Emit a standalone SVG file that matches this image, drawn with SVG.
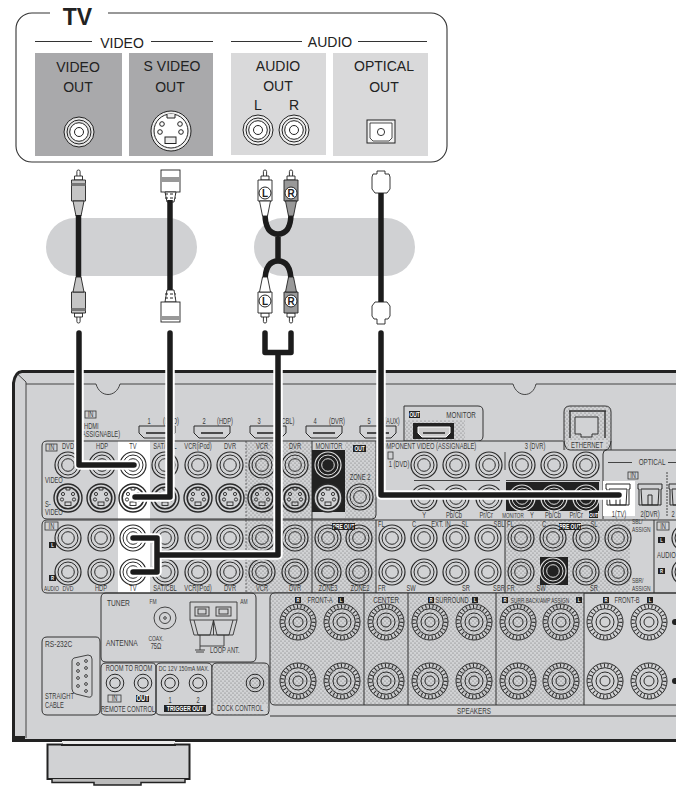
<svg xmlns="http://www.w3.org/2000/svg" xmlns:xlink="http://www.w3.org/1999/xlink" width="676" height="790" viewBox="0 0 676 790" font-size="8.2">
<style>
text{font-family:"Liberation Sans",Arial,sans-serif}
.tv{font-size:14px;fill:#222;text-anchor:middle}
.s{fill:#3a3a3a;text-anchor:middle;transform-box:fill-box;transform-origin:50% 50%;transform:scaleX(.7)}
.sl{text-anchor:start;transform-origin:0 50%}
.w{fill:#fff;font-weight:bold}
.l{fill:none;stroke:#333;stroke-width:.9}
.pn{fill:none;stroke:#333;stroke-width:1}
.blk{fill:#222}
.box{fill:none;stroke:#333;stroke-width:.8}
.halo{fill:none;stroke:#fff;stroke-width:9.5;stroke-linecap:round;stroke-linejoin:round}
.cab{fill:none;stroke:#1c1c1c;stroke-width:5.5;stroke-linecap:round;stroke-linejoin:round}
.cab2{fill:none;stroke:#1c1c1c;stroke-width:5.5}
.pl{stroke:#222;stroke-width:.9}
</style>
<defs>
<pattern id="dots" width="4" height="4" patternUnits="userSpaceOnUse">
<rect width="4" height="4" fill="#d1d2d4"/>
<circle cx="1" cy="1" r=".6" fill="#6e6e6e"/><circle cx="3" cy="3" r=".6" fill="#6e6e6e"/>
</pattern>
<g id="rca" fill="none" stroke="#2a2a2a">
<circle r="13" stroke-width="1.2"/><circle r="10" stroke-width="1"/><circle r="6.3" stroke-width="1"/>
</g>
<g id="rcaW" fill="none" stroke="#ddd">
<circle r="13" stroke-width="1.2"/><circle r="10" stroke-width="1"/><circle r="6.3" stroke-width="1"/>
</g>
<g id="sv" fill="none" stroke="#2a2a2a">
<circle r="14" stroke-width="1.4"/><circle r="10.8" stroke-width="1.6"/>
<circle cx="-5" cy="-4" r="1.6" stroke-width=".9"/><circle cx="5" cy="-4" r="1.6" stroke-width=".9"/>
<circle cx="-6" cy="1.5" r="1.6" stroke-width=".9"/><circle cx="6" cy="1.5" r="1.6" stroke-width=".9"/>
<rect x="-3" y="4" width="6" height="3.5" stroke-width=".9"/>
<path d="M-2 -11V-8H2V-11" stroke-width=".9"/>
</g>
<g id="spk" fill="none" stroke="#2a2a2a">
<circle r="18" stroke-width="1"/>
<circle r="15.6" stroke-width="3.6" stroke-dasharray="1 2.6"/>
<circle r="13.3" stroke-width="1"/><circle r="9" stroke-width="1"/><circle r="5" stroke-width="1"/>
</g>
<g id="mini" fill="none" stroke="#2a2a2a">
<circle r="8.8" stroke-width="1"/><circle r="5.2" stroke-width="1"/>
</g>
<g id="opt" fill="none" stroke="#2a2a2a" stroke-width="1">
<path d="M-12 -12H12V-7H11V9H-11V-7H-12Z"/><path d="M-9 -7H9L8 9H-8Z"/><path d="M-2 9V-1H2V9"/>
</g>
<g id="hdmi" fill="none" stroke="#2a2a2a" stroke-width="1">
<path d="M-18 -6H18V1L13 6H-13L-18 1Z"/><path d="M-11 1H11" stroke-width="1.6"/>
</g>
<g id="plug" stroke="#222" stroke-width=".9">
<rect x="-1.6" y="0" width="3.2" height="10" rx="1.5" fill="#fff"/>
<path d="M-4 6H4V10H-4Z" fill="#fff"/>
<path d="M-7 10H7V31H-7Z"/>
<path d="M-5.5 31H5.5L2.5 46H-2.5Z"/>
</g>
</defs>
<rect width="676" height="790" fill="#fff"/>

<g id="tv-panel">
<rect x="16" y="13" width="431" height="149" rx="16" fill="#fff" stroke="#333" stroke-width="1.1"/>
<rect x="50" y="8" width="58" height="10" fill="#fff"/>
<text x="77.500" y="25" font-size="23" font-weight="bold" fill="#222" text-anchor="middle">TV</text>
<path d="M35 41.5H92M151 41.5H213M231 41.5H302M358 41.5H427" stroke="#333" fill="none"/>
<text class="tv" x="122" y="48">VIDEO</text>
<text class="tv" x="330" y="47">AUDIO</text>
<g id="tv-video-out">
<rect x="35" y="53" width="87" height="103" fill="#a9a9ab"/>
<text class="tv" x="78" y="72">VIDEO</text><text class="tv" x="78" y="92">OUT</text>
<g fill="#e4e4e4" stroke="#222"><circle cx="79" cy="132" r="15"/><circle cx="79" cy="132" r="12" fill="none"/><circle cx="79" cy="132" r="9.3" fill="#fff"/><circle cx="79" cy="132" r="4.5" fill="#fff"/></g>
</g>
<g id="tv-svideo-out">
<rect x="129" y="53" width="84" height="103" fill="#a9a9ab"/>
<text class="tv" x="172" y="71">S VIDEO</text><text class="tv" x="170" y="92">OUT</text>
<g stroke="#222" fill="#eee"><circle cx="171" cy="131" r="20"/><circle cx="171" cy="131" r="17" fill="#fff"/>
<path d="M167 114V118H175V114" fill="#eee"/><rect x="165" y="137" width="11" height="6.5"/>
<circle cx="162" cy="124" r="2.3" fill="none"/><circle cx="180" cy="124" r="2.3" fill="none"/><circle cx="160" cy="132" r="2.3" fill="none"/><circle cx="181" cy="132" r="2.3" fill="none"/></g>
</g>
<g id="tv-audio-out">
<rect x="231" y="53" width="95" height="102" fill="#d9d9da"/>
<text class="tv" x="278" y="71">AUDIO</text><text class="tv" x="278" y="91">OUT</text>
<text class="tv" x="258" y="110">L</text><text class="tv" x="294" y="110">R</text>
<g stroke="#222" fill="#eee"><circle cx="258" cy="130" r="15"/><circle cx="258" cy="130" r="12" fill="none"/><circle cx="258" cy="130" r="9.3" fill="#fff"/><circle cx="258" cy="130" r="4.5" fill="#fff"/>
<circle cx="294" cy="130" r="15"/><circle cx="294" cy="130" r="12" fill="none"/><circle cx="294" cy="130" r="9.3" fill="#fff"/><circle cx="294" cy="130" r="4.5" fill="#fff"/></g>
</g>
<g id="tv-optical-out">
<rect x="333" y="53" width="95" height="103" fill="#d9d9da"/>
<text class="tv" x="384" y="71">OPTICAL</text><text class="tv" x="384" y="92">OUT</text>
<rect x="367" y="120" width="28" height="23" fill="#f0f0f0" stroke="#222"/>
<path d="M370 123H392V138L389 141H373L370 138Z" fill="#fff" stroke="#222" stroke-width=".8"/>
<circle cx="381" cy="132" r="3.6" fill="none" stroke="#222" stroke-width=".9"/>
</g>
</g>

<g id="bands">
<rect x="46" y="218" width="151" height="58" rx="29" fill="#d0d1d3"/>
<rect x="254" y="218" width="161" height="58" rx="29" fill="#d0d1d3"/>
</g>

<g id="receiver">
<path d="M676 371.500H22Q15 372 13.500 383V740.500H676Z" fill="#d1d2d4"/>
<path d="M676 371.500H22Q15 372 13.500 383V740.500H676" fill="none" stroke="#222" stroke-width="3"/>
<rect x="12" y="736" width="13" height="6" fill="#222"/>
<path d="M26 382V738M17 373.500L26 382" class="l" stroke-width=".7"/>
<path d="M26 384H96C100 398 116 398 120 384H513C517 398 533 398 536 384H676" class="l"/>

<g id="hdmi-inputs">
<rect x="85" y="411" width="11" height="7" class="box"/><text class="s" x="90.500" y="417">IN</text>
<text class="s sl" x="84" y="429">HDMI</text><text class="s sl" x="80" y="437">(ASSIGNABLE)</text>
<use xlink:href="#hdmi" x="157" y="432"/><use xlink:href="#hdmi" x="212" y="432"/><use xlink:href="#hdmi" x="268" y="432"/><use xlink:href="#hdmi" x="324" y="432"/><use xlink:href="#hdmi" x="378" y="432"/>
<text class="s" x="149" y="424">1</text><text class="s" x="171" y="424">(DVD)</text>
<text class="s" x="204" y="424">2</text><text class="s" x="225" y="424">(HDP)</text>
<text class="s" x="259" y="424">3</text><text class="s" x="287" y="424">(CBL)</text>
<text class="s" x="315" y="424">4</text><text class="s" x="337" y="424">(DVR)</text>
<text class="s" x="369" y="424">5</text><text class="s" x="392" y="424">(AUX)</text>
</g>

<g id="hdmi-monitor">
<path d="M404 406H478Q483 406 483 411V436Q483 441 478 441H404Z" fill="#d1d2d4" stroke="#333"/>
<rect x="405" y="420" width="60" height="20" fill="url(#dots)"/>
<rect x="409" y="411" width="11" height="7" class="blk"/><text class="s w" x="414.500" y="417" font-size="7">OUT</text>
<text class="s" x="461" y="418" font-size="9">MONITOR</text>
<rect x="413" y="423" width="41" height="16" class="blk"/>
<path d="M418 427H450V433L446 437H422L418 433Z" fill="#ccc" stroke="#fff"/><path d="M423 433H445" stroke="#222" stroke-width="1.500"/>
</g>

<g id="video-panel">
<path d="M42 446Q42 441 47 441H560Q563 441 564 444V448Q566 450 570 450H676V519H47Q42 519 42 514Z" fill="#d1d2d4"/>
<rect x="246" y="442" width="66" height="76" fill="url(#dots)"/>
<rect x="345" y="442" width="31" height="76" fill="url(#dots)"/>
<rect x="118" y="441" width="32" height="78" fill="#fff"/>
<path d="M563 441H47Q42 441 42 446V514Q42 519 47 519H372Q376 519 376 515V441" class="pn"/>
<path d="M246 441V519" stroke="#333" stroke-width=".7" stroke-dasharray="2 1.500"/><path d="M312 441V519" class="pn"/>
<rect x="46" y="444" width="11" height="7" class="box"/><text class="s" x="51.500" y="450">IN</text>
<text class="s" x="68" y="449">DVD</text><text class="s" x="102" y="449">HDP</text><text class="s" x="133" y="449">TV</text><text class="s" x="165" y="449">SAT/CBL</text><text class="s" x="198" y="449">VCR(iPod)</text><text class="s" x="230" y="449">DVR</text><text class="s" x="262" y="449">VCR</text><text class="s" x="295" y="449">DVR</text><text class="s" x="329" y="449">MONITOR</text>
<text class="s sl" x="45" y="483">VIDEO</text><text class="s sl" x="45" y="507">S-</text><text class="s sl" x="45" y="515">VIDEO</text>
<rect x="312" y="450" width="33" height="62" class="blk"/>
<use xlink:href="#rca" x="68" y="465"/><use xlink:href="#rca" x="102" y="465"/><use xlink:href="#rca" x="133" y="465"/><use xlink:href="#rca" x="165" y="465"/><use xlink:href="#rca" x="198" y="465"/><use xlink:href="#rca" x="230" y="465"/><use xlink:href="#rca" x="262" y="465"/><use xlink:href="#rca" x="295" y="465"/><use xlink:href="#rcaW" x="328" y="465"/>
<use xlink:href="#sv" x="68" y="498"/><use xlink:href="#sv" x="101" y="498"/><use xlink:href="#sv" x="133" y="498"/><use xlink:href="#sv" x="165" y="498"/><use xlink:href="#sv" x="198" y="498"/><use xlink:href="#sv" x="230" y="498"/><use xlink:href="#sv" x="262" y="498"/><use xlink:href="#sv" x="295" y="498"/>
<circle cx="328" cy="498" r="14" fill="#d1d2d4"/><use xlink:href="#sv" x="328" y="498"/>
<rect x="353" y="445" width="13" height="7" class="blk"/><text class="s w" x="359.500" y="451" font-size="7">OUT</text>
<text class="s" x="360" y="480">ZONE 2</text>
<use xlink:href="#rca" x="360" y="497"/>
</g>

<g id="component-panel">
<text class="s sl" x="378" y="449">COMPONENT VIDEO (ASSIGNABLE)</text>
<rect x="388" y="452" width="5" height="7" class="box"/>
<text class="s" x="399" y="467">1 (DVD)</text><text class="s" x="535" y="449">3 (DVR)</text>
<path d="M505 452V470M414 480.500H500M506 480.500H600" class="l"/>
<rect x="506" y="482" width="93" height="29" class="blk"/>
<use xlink:href="#rca" x="424" y="465"/><use xlink:href="#rca" x="456" y="465"/><use xlink:href="#rca" x="489" y="465"/><use xlink:href="#rca" x="522" y="465"/><use xlink:href="#rca" x="554" y="465"/><use xlink:href="#rca" x="586" y="465"/>
<use xlink:href="#rca" x="424" y="498"/><use xlink:href="#rca" x="456" y="498"/><use xlink:href="#rca" x="489" y="498"/><use xlink:href="#rcaW" x="522" y="498"/><use xlink:href="#rcaW" x="554" y="498"/><use xlink:href="#rcaW" x="586" y="498"/>
<rect x="505" y="511" width="95" height="8" fill="#d1d2d4"/><rect x="414" y="511" width="90" height="8" fill="#d1d2d4"/>
<text class="s" x="424" y="518">Y</text><text class="s" x="454" y="518">Pb/Cb</text><text class="s" x="486" y="518">Pr/Cr</text>
<text class="s" x="513" y="518" font-size="6.500">MONITOR</text><text class="s" x="532" y="518">Y</text><text class="s" x="553" y="518">Pb/Cb</text><text class="s" x="576" y="518">Pr/Cr</text>
<rect x="589" y="511" width="9" height="7" class="blk"/><text class="s w" x="593.500" y="517" font-size="6">OUT</text>
</g>

<g id="ethernet">
<path d="M564 450V412Q564 406 570 406H605Q611 406 611 412V450" fill="url(#dots)" stroke="#333"/>
<path d="M564 441Q565 450 570 450H605Q610 450 611 441" fill="none" stroke="#333"/>
<rect x="569" y="440" width="37" height="9" fill="#d1d2d4"/>
<path d="M569 411H606M570 411V438M605 411V438" stroke="#333" stroke-width="1.400" fill="none"/>
<path d="M575 417H598V434H592V437H581V434H575Z" fill="#d1d2d4" stroke="#333"/>
<text class="s" x="587" y="448.500" font-size="8.500">ETHERNET</text>
</g>

<g id="optical-panel">
<path d="M603 519V454Q603 450 607 450H676" class="pn"/>
<rect x="603" y="481" width="32" height="35" fill="#fff"/>
<path d="M608 462.500H632M668 462.500H676" class="l"/><text class="s" x="652" y="465" font-size="9">OPTICAL</text>
<rect x="628" y="472" width="10" height="7" class="box"/><text class="s" x="633" y="478">IN</text>
<path d="M667 472V517" class="l" stroke-dasharray="2 1"/>
<use xlink:href="#opt" x="618" y="496"/><use xlink:href="#opt" x="650" y="496"/><use xlink:href="#opt" x="681" y="496"/>
<text class="s" x="619" y="517">1(TV)</text><text class="s" x="650" y="517">2(DVR)</text><text class="s" x="673" y="517">2</text>
</g>

<g id="audio-panel">
<path d="M42 525Q42 520 47 520H654V593H47Q42 593 42 588Z" fill="#d1d2d4"/>
<rect x="246" y="520" width="130" height="73" fill="url(#dots)"/>
<rect x="505" y="520" width="125" height="72" fill="url(#dots)"/>
<rect x="118" y="520" width="32" height="73" fill="#fff"/>
<path d="M47 520H676M42 525Q42 520 47 520M42 525V588Q42 593 47 593H676" class="pn"/>
<path d="M246 520V593" stroke="#333" stroke-width=".7" stroke-dasharray="2 1.500"/>
<path d="M312 520V593M376 520V593M505 520V593M654 520V593" class="pn"/>
<rect x="45" y="522" width="13" height="8" class="box"/><text class="s" x="51.500" y="529">IN</text>
<rect x="49" y="542" width="7" height="6" class="blk"/><text class="s w" x="52.500" y="547.500" font-size="6">L</text>
<rect x="49" y="575" width="7" height="6" class="blk"/><text class="s w" x="52.500" y="580.500" font-size="6">R</text>
<text class="s sl" x="44" y="591" font-size="6.800">AUDIO</text>
<text class="s" x="68" y="591" font-size="7.400">DVD</text><text class="s" x="101" y="591">HDP</text><text class="s" x="133" y="591">TV</text><text class="s" x="165" y="591">SAT/CBL</text><text class="s" x="198" y="591">VCR(iPod)</text><text class="s" x="230" y="591">DVR</text><text class="s" x="262" y="591">VCR</text><text class="s" x="295" y="591">DVR</text><text class="s" x="328" y="591">ZONE3</text><text class="s" x="360" y="591">ZONE2</text>
<rect x="332" y="523" width="23" height="7" class="blk"/><text class="s w" x="343.500" y="529" font-size="7">PRE OUT</text>
<text class="s sl" x="378" y="527">FL</text><text class="s" x="414" y="527">C</text><text class="s" x="441" y="527">EXT. IN</text><text class="s" x="465" y="527">SL</text><text class="s" x="499" y="527">SBL</text>
<text class="s sl" x="378" y="591">FR</text><text class="s" x="411" y="591">SW</text><text class="s" x="466" y="591">SR</text><text class="s" x="499" y="591">SBR</text>
<text class="s sl" x="507" y="527">FL</text><text class="s" x="544" y="527">C</text><rect x="559" y="523" width="22" height="7" class="blk"/><text class="s w" x="570" y="529" font-size="7">PRE OUT</text><text class="s" x="594" y="527">SL</text>
<text class="s sl" x="507" y="591">FR</text><text class="s" x="541" y="591">SW</text><text class="s" x="594" y="591">SR</text>
<text class="s sl" x="632" y="524" font-size="7">SBL/</text><text class="s sl" x="632" y="532" font-size="7">ASSIGN</text>
<text class="s sl" x="632" y="583" font-size="7">SBR/</text><text class="s sl" x="632" y="591" font-size="7">ASSIGN</text>
<rect x="540" y="557" width="28" height="28" class="blk"/>
<use xlink:href="#rca" x="68" y="538"/><use xlink:href="#rca" x="101" y="538"/><use xlink:href="#rca" x="133" y="538"/><use xlink:href="#rca" x="165" y="538"/><use xlink:href="#rca" x="198" y="538"/><use xlink:href="#rca" x="230" y="538"/><use xlink:href="#rca" x="262" y="538"/><use xlink:href="#rca" x="295" y="538"/><use xlink:href="#rca" x="328" y="538"/><use xlink:href="#rca" x="359" y="538"/><use xlink:href="#rca" x="392" y="538"/><use xlink:href="#rca" x="424" y="538"/><use xlink:href="#rca" x="456" y="538"/><use xlink:href="#rca" x="488" y="538"/><use xlink:href="#rca" x="521" y="538"/><use xlink:href="#rca" x="553" y="538"/><use xlink:href="#rca" x="586" y="538"/><use xlink:href="#rca" x="618" y="538"/>
<use xlink:href="#rca" x="68" y="572"/><use xlink:href="#rca" x="101" y="572"/><use xlink:href="#rca" x="133" y="572"/><use xlink:href="#rca" x="165" y="572"/><use xlink:href="#rca" x="198" y="572"/><use xlink:href="#rca" x="230" y="572"/><use xlink:href="#rca" x="262" y="572"/><use xlink:href="#rca" x="295" y="572"/><use xlink:href="#rca" x="328" y="572"/><use xlink:href="#rca" x="359" y="572"/><use xlink:href="#rca" x="392" y="572"/><use xlink:href="#rca" x="424" y="572"/><use xlink:href="#rca" x="456" y="572"/><use xlink:href="#rca" x="488" y="572"/><use xlink:href="#rca" x="521" y="572"/><use xlink:href="#rcaW" x="553" y="571"/><use xlink:href="#rca" x="586" y="572"/><use xlink:href="#rca" x="618" y="572"/>
<rect x="657" y="522" width="12" height="8" class="box"/><text class="s" x="663" y="529">IN</text>
<rect x="658" y="537" width="7" height="6" class="blk"/><text class="s w" x="661.500" y="542.500" font-size="6">L</text>
<text class="s sl" x="657" y="558" font-size="8.500">AUDIO</text>
<rect x="658" y="568" width="7" height="6" class="blk"/><text class="s w" x="661.500" y="573.500" font-size="6">R</text>
<use xlink:href="#rca" x="685" y="538"/><use xlink:href="#rca" x="685" y="572"/>
</g>

<g id="tuner-panel">
<path d="M101 598Q101 593 106 593H251Q256 593 256 598V657Q256 662 251 662H106Q101 662 101 657Z" class="pn"/>
<text class="s sl" x="107" y="606" font-size="9.500">TUNER</text><text class="s" x="153" y="604" font-size="7">FM</text><text class="s" x="244" y="604" font-size="7">AM</text>
<text class="s sl" x="106" y="646" font-size="9.500">ANTENNA</text><text class="s" x="156" y="641" font-size="7">COAX.</text><text class="s" x="156" y="649">75Ω</text>
<circle cx="165" cy="618" r="11" class="l"/><circle cx="165" cy="618" r="5.500" class="l"/><circle cx="165" cy="618" r="1.300" class="l"/>
<path d="M190 602H237V620L233 635H194L190 620Z" class="l"/><path d="M213.500 620V635M190 620H237M194 620L198 635H210L213.500 620L217 635H229L233 620" class="l"/>
<rect x="195" y="607" width="14" height="9" class="l"/><rect x="198" y="609" width="8" height="5" class="l"/><rect x="216" y="607" width="15" height="9" class="l"/><rect x="219" y="609" width="9" height="5" class="l"/>
<path d="M200 635V646H224V635M200 646V650M195 650H205M196 652H204" class="l"/>
<text class="s sl" x="210" y="653">LOOP ANT.</text>
</g>

<g id="rs232c-panel">
<path d="M42 642Q42 637 47 637H96Q100 637 100 642V710Q100 715 95 715H47Q42 715 42 710Z" class="pn"/>
<text class="s sl" x="45" y="647" font-size="9.500">RS-232C</text>
<path d="M74 658L88 655Q92 655 92 659V694Q92 698 88 697L76 694Q72 693 72 689V661Q72 659 74 658Z" class="l"/>
<circle cx="78" cy="664" r="1.400" class="l"/><circle cx="78" cy="671" r="1.400" class="l"/><circle cx="78" cy="678" r="1.400" class="l"/><circle cx="78" cy="686" r="1.400" class="l"/>
<circle cx="86" cy="661" r="1.400" class="l"/><circle cx="86" cy="668" r="1.400" class="l"/><circle cx="86" cy="676" r="1.400" class="l"/><circle cx="86" cy="684" r="1.400" class="l"/><circle cx="86" cy="691" r="1.400" class="l"/>
<text class="s sl" x="45" y="699">STRAIGHT</text><text class="s sl" x="45" y="708">CABLE</text>
</g>

<g id="remote-panel">
<path d="M101 668Q101 663 106 663H152Q156 663 156 668V711Q156 715 152 715H106Q101 715 101 711Z" class="pn"/>
<text class="s" x="129" y="671">ROOM TO ROOM</text>
<use xlink:href="#mini" x="115" y="683"/><use xlink:href="#mini" x="143" y="683"/>
<rect x="108" y="695" width="13" height="7" class="box"/><text class="s" x="114.500" y="701">IN</text>
<rect x="136" y="695" width="13" height="7" class="blk"/><text class="s w" x="142.500" y="701">OUT</text>
<text class="s" x="128" y="712">REMOTE CONTROL</text>
</g>
<g id="trigger-panel">
<path d="M156 668Q156 663 161 663H207Q212 663 212 668V711Q212 715 208 715H161Q156 715 156 711Z" class="pn"/>
<text class="s" x="184" y="671" font-size="7.500">DC 12V 150mA MAX.</text>
<use xlink:href="#mini" x="170" y="683"/><use xlink:href="#mini" x="198" y="683"/>
<text class="s" x="170" y="703">1</text><text class="s" x="198" y="703">2</text>
<rect x="164" y="705" width="42" height="7" class="blk"/><text class="s w" x="185" y="711" font-size="7.500">TRIGGER OUT</text>
</g>
<g id="dock-panel">
<path d="M212 668Q212 663 217 663H264Q269 663 269 668V711Q269 715 265 715H217Q212 715 212 711Z" fill="url(#dots)" stroke="#333"/>
<rect x="214" y="704" width="53" height="10" fill="#d1d2d4"/>
<use xlink:href="#mini" x="255" y="683"/>
<text class="s" x="240" y="711">DOCK CONTROL</text>
</g>

<g id="speakers-panel">
<path d="M270 598Q270 593 275 593H584V705H275Q270 705 270 700Z" fill="url(#dots)"/>
<path d="M676 593H275Q270 593 270 598V700Q270 705 275 705H676M364 593V705M408 593V705M496 593V705M584 593V705" class="pn"/>
<path d="M270 716H676" class="pn"/>
<rect x="295" y="597" width="6" height="6" class="blk"/><text class="s w" x="298" y="602.500" font-size="6">R</text><text class="s" x="320" y="603">FRONT-A</text><rect x="338" y="597" width="6" height="6" class="blk"/><text class="s w" x="341" y="602.500" font-size="6">L</text>
<text class="s" x="386" y="603" font-size="9">CENTER</text>
<rect x="428" y="597" width="6" height="6" class="blk"/><text class="s w" x="431" y="602.500" font-size="6">R</text><text class="s" x="452" y="603">SURROUND</text><rect x="472" y="597" width="6" height="6" class="blk"/><text class="s w" x="475" y="602.500" font-size="6">L</text>
<rect x="502" y="597" width="6" height="6" class="blk"/><text class="s w" x="505" y="602.500" font-size="6">R</text><text class="s" x="540" y="603" font-size="6.800">SURR.BACK/AMP ASSIGN</text><rect x="576" y="597" width="6" height="6" class="blk"/><text class="s w" x="579" y="602.500" font-size="6">L</text>
<rect x="603" y="597" width="6" height="6" class="blk"/><text class="s w" x="606" y="602.500" font-size="6">R</text><text class="s" x="627" y="603">FRONT-B</text><rect x="647" y="597" width="6" height="6" class="blk"/><text class="s w" x="650" y="602.500" font-size="6">L</text>
<use xlink:href="#spk" x="298" y="622"/><use xlink:href="#spk" x="342" y="622"/><use xlink:href="#spk" x="386" y="622"/><use xlink:href="#spk" x="430" y="622"/><use xlink:href="#spk" x="474" y="622"/><use xlink:href="#spk" x="518" y="622"/><use xlink:href="#spk" x="561" y="622"/><use xlink:href="#spk" x="605" y="622"/><use xlink:href="#spk" x="649" y="622"/>
<use xlink:href="#spk" x="298" y="681"/><use xlink:href="#spk" x="342" y="681"/><use xlink:href="#spk" x="386" y="681"/><use xlink:href="#spk" x="430" y="681"/><use xlink:href="#spk" x="474" y="681"/><use xlink:href="#spk" x="518" y="681"/><use xlink:href="#spk" x="561" y="681"/><use xlink:href="#spk" x="605" y="681"/><use xlink:href="#spk" x="649" y="681"/>
<circle cx="675" cy="622" r="3" fill="#222"/><circle cx="675" cy="681" r="3" fill="#222"/>
<text class="s" x="474" y="714" font-size="9">SPEAKERS</text>
</g>

<g id="foot">
<rect x="62" y="741" width="113" height="4" fill="#ebebeb"/>
<path d="M47.500 744.500H62V745H175V744.500H189.500V779H47.500Z" fill="#d1d2d4" stroke="#222" stroke-width="2"/>
<path d="M52 779V782.500H94V785H141V782.500H185V779" fill="#bbb" stroke="#222" stroke-width="1.500"/>
</g>
</g>

<g id="connectors">
<g id="cable-video">
<use xlink:href="#plug" x="78.500" y="170" fill="#c5c5c5"/>
<rect x="71.500" y="183" width="14" height="3" fill="#777"/>
<path d="M78.500 215V280" class="cab2"/>
<use xlink:href="#plug" transform="translate(78.500 323) scale(1 -1)" fill="#c5c5c5"/>
<rect x="71.500" y="308" width="14" height="3" fill="#777"/>
</g>
<g id="cable-svideo">
<rect x="161" y="170" width="19" height="22" fill="#fff" class="pl"/><rect x="161" y="177" width="19" height="5" fill="#999"/>
<path d="M165 192H176L174 202H167Z" fill="#fff" class="pl"/>
<path d="M170 200V290" class="cab2"/>
<path d="M167 290H174L176 302H165Z" fill="#fff" class="pl"/>
<path d="M165 194H176M165 198H176M165 294H176M165 298H176" stroke="#222" stroke-dasharray="3 2"/>
<rect x="161" y="302" width="19" height="20" fill="#fff" class="pl"/><rect x="161" y="316" width="19" height="4" fill="#999"/>
</g>
<g id="cable-audio">
<path d="M265 213Q265 234 278 234Q291 234 291 213M278 234V261M265 282Q265 261 278 261Q291 261 291 282" class="cab2"/>
<use xlink:href="#plug" x="265" y="170" fill="#fff"/>
<use xlink:href="#plug" x="291" y="170" fill="#999"/>
<use xlink:href="#plug" transform="translate(265 323) scale(1 -1)" fill="#fff"/>
<use xlink:href="#plug" transform="translate(291 323) scale(1 -1)" fill="#999"/>
<g fill="#fff" stroke="#222" stroke-width="1"><circle cx="265" cy="193" r="6"/><circle cx="291" cy="193" r="6"/><circle cx="265" cy="301" r="6"/><circle cx="291" cy="301" r="6"/></g>
<g font-size="10" font-weight="bold" fill="#222" text-anchor="middle"><text x="265" y="196.500">L</text><text x="291" y="196.500">R</text><text x="265" y="304.500">L</text><text x="291" y="304.500">R</text></g>
</g>
<g id="cable-optical">
<path d="M377 171H385V174H389L390 177V189L387 193H375L372 189V177L373 174H377Z" fill="#fff" class="pl"/>
<path d="M381 193V303" class="cab2"/>
<path d="M375 302H387L390 306V316L388 319H385V324H377V319H374L372 316V306Z" fill="#fff" class="pl"/>
</g>
<path class="halo" d="M79 333V465H134"/><path class="halo" d="M170 333V497H135"/>
<path class="halo" d="M265 333V352.500H291V333M278 352.500V555H158M133 538H157V572H133"/>
<path class="halo" d="M381 333V495H619"/>
<path class="cab" d="M79 333V465H134"/><path class="cab" d="M170 333V497H135"/>
<path class="cab" d="M265 333V352.500H291V333M278 352.500V555H158M133 538H157V572H133"/>
<path class="cab" d="M381 333V495H619"/>
</g>
</svg>
